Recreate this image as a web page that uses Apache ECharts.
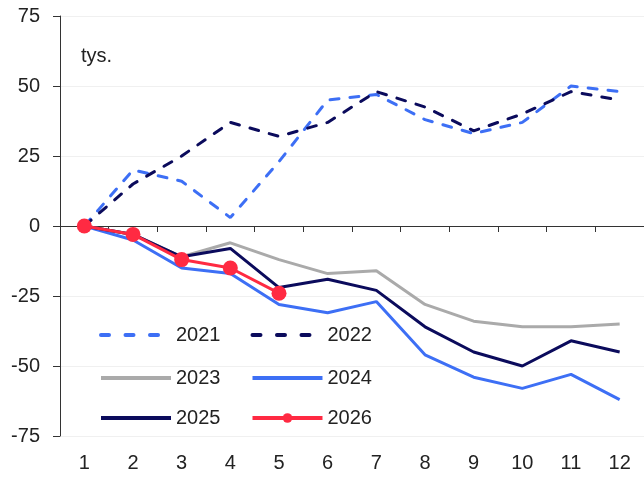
<!DOCTYPE html>
<html>
<head>
<meta charset="utf-8">
<script src="https://cdn.jsdelivr.net/npm/echarts@6/dist/echarts.min.js"></script>
<style>html,body{margin:0;padding:0;background:#fff;}#c{width:644px;height:478px;}</style>
</head>
<body>
<div id="c"></div>
<script>
const categories = ['1','2','3','4','5','6','7','8','9','10','11','12'];
const yTicks = [-75, -50, -25, 0, 25, 50, 75];
const s2021 = [0, 20, 16, 3, 23, 45, 47, 38, 33, 37, 50, 48];
const s2022 = [0, 15, 25, 37, 32, 37, 48, 42.5, 34, 40, 48, 45];
const s2023 = [0, -3, -11, -6, -12, -17, -16, -28, -34, -36, -36, -35];
const s2024 = [0, -5, -15, -17, -28, -31, -27, -46, -54, -58, -53, -62];
const s2025 = [0, -3, -11, -8, -22, -19, -23, -36, -45, -50, -41, -45];
const s2026 = [0, -3, -12, -15, -24];

const FONT = 'Liberation Sans, Arial, sans-serif';
const BLUE = '#3d6ff5', NAVY = '#0b0b5c', GREY = '#aaaaaa', RED = '#ff2a42';
const chart = echarts.init(document.getElementById('c'));

function line(name, data, color, dashed, extra) {
  return Object.assign({
    name, type: 'line', data, xAxisIndex: 0, yAxisIndex: 0,
    symbol: 'none', showSymbol: false,
    lineStyle: {color, width: 3, type: dashed ? [9, 11] : 'solid', cap: dashed ? 'round' : 'butt'},
    itemStyle: {color},
    emphasis: {disabled: true}
  }, extra || {});
}

const legendBase = {
  left: 99, itemWidth: 70, itemHeight: 12, itemGap: 30, padding: 0,
  textStyle: {fontSize: 20, color: '#222', fontFamily: FONT},
  selectedMode: false
};
const noDot = (name, dashed) => ({name, itemStyle: {opacity: 0},
  lineStyle: dashed ? {width: 4, type: [8, 16.5]} : {width: 4}});

chart.setOption({
  animation: false,
  grid: {left: 60, right: -7, top: 16, bottom: 42},
  graphic: [{type: 'text', left: 81, top: 46, style: {text: 'tys.', fontSize: 20, fill: '#222', fontFamily: FONT}}],
  legend: [
    Object.assign({}, legendBase, {top: 325, data: [noDot('2021', true), noDot('2022', true)]}),
    Object.assign({}, legendBase, {top: 368, data: [noDot('2023'), noDot('2024')]}),
    Object.assign({}, legendBase, {top: 408, data: [noDot('2025'), {name: '2026', lineStyle: {width: 4}}]})
  ],
  xAxis: [
    {type: 'category', data: categories, position: 'bottom', boundaryGap: true,
     axisLine: {show: false, onZero: false}, axisTick: {show: false},
     axisLabel: {fontSize: 20, color: '#222', fontFamily: FONT, margin: 17}},
    {type: 'category', data: categories, position: 'bottom', boundaryGap: true,
     axisLine: {show: true, onZero: true, lineStyle: {color: '#333', width: 1}},
     axisTick: {show: true, length: 6, lineStyle: {color: '#333'}},
     axisLabel: {show: false}, splitLine: {show: false}}
  ],
  yAxis: {
    type: 'value', min: -75, max: 75, interval: 25,
    axisLine: {show: true, lineStyle: {color: '#333'}},
    axisTick: {show: true, length: 7, lineStyle: {color: '#333'}},
    axisLabel: {fontSize: 20, color: '#222', fontFamily: FONT, margin: 20,
      formatter: v => yTicks.includes(v) ? String(v) : ''},
    splitLine: {show: true, lineStyle: {color: '#f0f0f0', width: 1}}
  },
  series: [
    line('2021', s2021, BLUE, true),
    line('2022', s2022, NAVY, true),
    line('2023', s2023, GREY, false),
    line('2024', s2024, BLUE, false),
    line('2025', s2025, NAVY, false),
    line('2026', s2026, RED, false, {symbol: 'circle', symbolSize: 15, showSymbol: true, z: 5})
  ]
});
</script>
</body>
</html>
